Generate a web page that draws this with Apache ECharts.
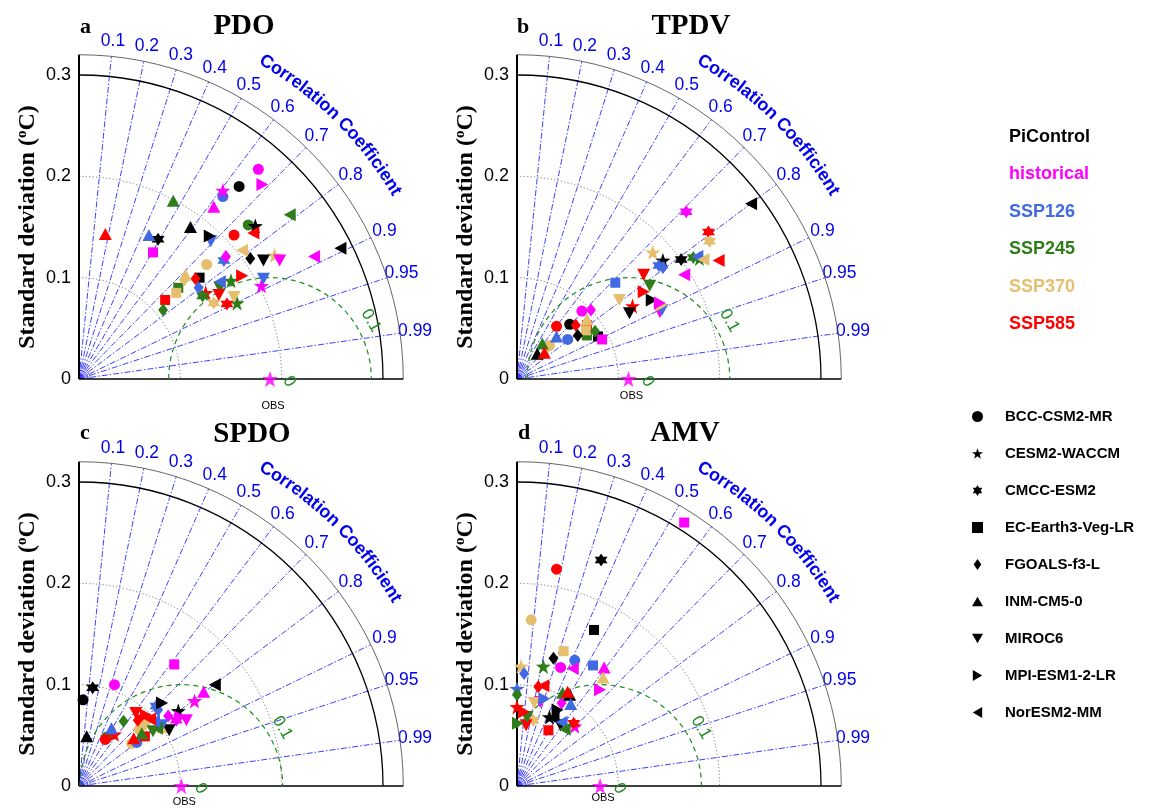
<!DOCTYPE html>
<html>
<head>
<meta charset="utf-8">
<script src="https://cdn.jsdelivr.net/npm/echarts@6/dist/echarts.min.js"></script>
<style>
  html, body { margin: 0; padding: 0; background: #fff; }
  #chart { width: 1151px; height: 810px; }
</style>
</head>
<body>
<div id="chart"></div>
<script>
// models -> marker shape, experiments -> colour
const models = ['BCC-CSM2-MR', 'CESM2-WACCM', 'CMCC-ESM2', 'EC-Earth3-Veg-LR', 'FGOALS-f3-L',
  'INM-CM5-0', 'MIROC6', 'MPI-ESM1-2-LR', 'NorESM2-MM'];
const experiments = ['PiControl', 'historical', 'SSP126', 'SSP245', 'SSP370', 'SSP585'];
const expColors = ['#000000', '#ff00ff', '#4169e1', '#2e7d1a', '#e6bf6e', '#ff0000'];

const corrTicks = [0.1, 0.2, 0.3, 0.4, 0.5, 0.6, 0.7, 0.8, 0.9, 0.95, 0.99];
const sdArcs = [0.1, 0.2];
const rmsArcs = [0, 0.1];
const panelTitles = ['PDO', 'TPDV', 'SPDO', 'AMV'];
const panelLetters = ['a', 'b', 'c', 'd'];
const obsStd = [0.1885, 0.110, 0.101, 0.082];

// [model, experiment, sd*R, sd*sqrt(1-R^2)]
const pdoPoints = [
  [0, 1, 0.177, 0.207], [0, 0, 0.158, 0.190], [7, 1, 0.181, 0.192], [1, 1, 0.142, 0.186],
  [0, 2, 0.142, 0.180], [5, 1, 0.133, 0.170], [5, 3, 0.093, 0.176], [8, 3, 0.208, 0.162],
  [5, 5, 0.026, 0.143], [5, 2, 0.069, 0.142], [2, 0, 0.078, 0.138], [3, 1, 0.073, 0.125],
  [5, 0, 0.110, 0.150], [7, 0, 0.129, 0.141], [6, 2, 0.130, 0.136], [0, 3, 0.167, 0.152],
  [1, 0, 0.174, 0.151], [0, 5, 0.153, 0.142], [8, 5, 0.172, 0.144], [8, 4, 0.161, 0.127],
  [4, 0, 0.169, 0.119], [6, 0, 0.182, 0.117], [1, 4, 0.193, 0.122], [6, 1, 0.198, 0.117],
  [8, 1, 0.232, 0.121], [8, 0, 0.258, 0.129], [4, 1, 0.145, 0.121], [2, 2, 0.143, 0.117],
  [0, 4, 0.126, 0.113], [4, 4, 0.104, 0.098], [5, 4, 0.105, 0.103], [4, 5, 0.115, 0.099],
  [3, 0, 0.119, 0.100], [4, 2, 0.118, 0.090], [3, 3, 0.098, 0.090], [3, 4, 0.096, 0.085],
  [3, 5, 0.085, 0.078], [4, 3, 0.083, 0.068], [8, 2, 0.139, 0.096], [1, 3, 0.150, 0.097],
  [7, 5, 0.161, 0.102], [6, 3, 0.139, 0.090], [2, 3, 0.122, 0.082], [1, 5, 0.125, 0.085],
  [6, 5, 0.138, 0.083], [2, 4, 0.133, 0.075], [6, 4, 0.153, 0.081], [2, 5, 0.146, 0.074],
  [1, 3, 0.156, 0.075], [6, 2, 0.182, 0.099], [1, 1, 0.180, 0.092]
];
const tpdvPoints = [
  [8, 0, 0.231, 0.173], [2, 1, 0.167, 0.165], [2, 5, 0.189, 0.145], [2, 4, 0.190, 0.136],
  [1, 4, 0.134, 0.125], [1, 0, 0.144, 0.117], [2, 0, 0.162, 0.118], [2, 3, 0.174, 0.120],
  [8, 2, 0.178, 0.121], [1, 3, 0.180, 0.119], [8, 4, 0.184, 0.118], [8, 5, 0.199, 0.117],
  [8, 1, 0.165, 0.103], [4, 2, 0.144, 0.110], [2, 2, 0.140, 0.112], [3, 2, 0.097, 0.095],
  [6, 5, 0.125, 0.103], [6, 3, 0.131, 0.092], [7, 5, 0.125, 0.086], [6, 4, 0.101, 0.078],
  [1, 5, 0.114, 0.072], [6, 0, 0.111, 0.065], [7, 0, 0.133, 0.078], [7, 4, 0.143, 0.073],
  [7, 1, 0.141, 0.075], [6, 1, 0.141, 0.066], [6, 2, 0.143, 0.068], [0, 1, 0.064, 0.067],
  [4, 1, 0.073, 0.068], [0, 5, 0.039, 0.052], [0, 0, 0.052, 0.054], [4, 5, 0.058, 0.053],
  [5, 4, 0.069, 0.059], [3, 5, 0.069, 0.053], [5, 2, 0.039, 0.042], [0, 2, 0.050, 0.039],
  [4, 0, 0.060, 0.043], [3, 3, 0.069, 0.043], [4, 3, 0.077, 0.047], [3, 0, 0.080, 0.042],
  [3, 1, 0.084, 0.039], [3, 4, 0.068, 0.048], [0, 4, 0.032, 0.033], [5, 3, 0.025, 0.035],
  [4, 4, 0.030, 0.031], [5, 0, 0.020, 0.025], [5, 5, 0.027, 0.026]
];
const spdoPoints = [
  [3, 1, 0.094, 0.120], [0, 1, 0.035, 0.100], [2, 0, 0.0135, 0.097], [0, 0, 0.004, 0.085],
  [5, 0, 0.0076, 0.049], [8, 0, 0.134, 0.100], [5, 1, 0.123, 0.093], [1, 1, 0.114, 0.084],
  [7, 0, 0.082, 0.082], [2, 2, 0.076, 0.079], [4, 2, 0.078, 0.075], [1, 0, 0.098, 0.074],
  [4, 1, 0.088, 0.069], [2, 1, 0.096, 0.065], [6, 1, 0.106, 0.065], [7, 1, 0.100, 0.068],
  [6, 0, 0.089, 0.055], [0, 4, 0.052, 0.042], [5, 4, 0.083, 0.058], [3, 4, 0.062, 0.060],
  [6, 4, 0.068, 0.063], [4, 4, 0.058, 0.056], [4, 3, 0.044, 0.064], [6, 3, 0.073, 0.054],
  [0, 3, 0.027, 0.048], [5, 3, 0.062, 0.052], [8, 3, 0.077, 0.057], [5, 2, 0.032, 0.057],
  [0, 2, 0.057, 0.043], [6, 2, 0.082, 0.060], [8, 2, 0.074, 0.064], [6, 5, 0.056, 0.072],
  [2, 5, 0.062, 0.067], [8, 5, 0.070, 0.066], [7, 5, 0.066, 0.070], [4, 5, 0.058, 0.065],
  [1, 5, 0.035, 0.051], [0, 5, 0.026, 0.046], [5, 5, 0.054, 0.047], [3, 5, 0.065, 0.049]
];
const amvPoints = [
  [3, 1, 0.165, 0.260], [2, 0, 0.083, 0.223], [0, 5, 0.039, 0.214], [0, 4, 0.014, 0.164],
  [3, 0, 0.076, 0.154], [3, 4, 0.046, 0.133], [4, 0, 0.036, 0.126], [0, 2, 0.057, 0.124],
  [0, 1, 0.043, 0.117], [8, 1, 0.055, 0.116], [3, 2, 0.075, 0.119], [1, 3, 0.026, 0.118],
  [1, 4, 0.004, 0.118], [4, 2, 0.007, 0.111], [5, 1, 0.086, 0.117], [5, 4, 0.085, 0.107],
  [7, 1, 0.082, 0.095], [4, 5, 0.021, 0.098], [8, 5, 0.026, 0.099], [1, 2, 0.000, 0.096],
  [4, 3, 0.000, 0.090], [5, 3, 0.045, 0.092], [5, 0, 0.052, 0.090], [5, 5, 0.050, 0.093],
  [7, 2, 0.027, 0.086], [6, 1, 0.023, 0.083], [1, 5, 0.000, 0.078], [7, 5, 0.007, 0.073],
  [6, 4, 0.017, 0.082], [2, 4, 0.016, 0.065], [7, 3, 0.001, 0.062], [6, 5, 0.009, 0.060],
  [6, 3, 0.010, 0.068], [4, 1, 0.044, 0.082], [5, 2, 0.053, 0.081], [7, 0, 0.040, 0.075],
  [1, 0, 0.032, 0.068], [8, 0, 0.036, 0.067], [8, 2, 0.044, 0.063], [6, 0, 0.043, 0.060],
  [8, 3, 0.047, 0.056], [3, 5, 0.031, 0.055], [2, 5, 0.056, 0.062], [1, 1, 0.057, 0.059]
];
const panelPoints = [pdoPoints, tpdvPoints, spdoPoints, amvPoints];

// layout
const panelBoxes = [
  { left: 79, top: 75, obsDrop: 27, titleX: 244, titleTop: 12, letterX: 80, letterTop: 16 },
  { left: 517, top: 75, obsDrop: 17, titleX: 691, titleTop: 12, letterX: 517, letterTop: 16 },
  { left: 79, top: 482, obsDrop: 16, titleX: 252, titleTop: 420, letterX: 80, letterTop: 422 },
  { left: 517, top: 482, obsDrop: 12, titleX: 685, titleTop: 419, letterX: 518, letterTop: 422 }
];
const boxSize = 304;
const rMax = 0.32;

const shapes = {
  star: 'path://M0,-10L2.35,-3.24L9.51,-3.09L3.8,1.24L5.88,8.09L0,4L-5.88,8.09L-3.8,1.24L-9.51,-3.09L-2.35,-3.24Z',
  hexagram: 'path://M0,-10L2.89,-5L8.66,-5L5.77,0L8.66,5L2.89,5L0,10L-2.89,5L-8.66,5L-5.77,0L-8.66,-5L-2.89,-5Z',
  diamond: 'path://M0,-10L7,0L0,10L-7,0Z',
  up: 'path://M0,-9L10,8L-10,8Z',
  down: 'path://M0,9L10,-8L-10,-8Z',
  right: 'path://M9,0L-8,10L-8,-10Z',
  left: 'path://M-9,0L8,10L8,-10Z'
};
const modelSymbols = ['circle', shapes.star, shapes.hexagram, 'rect', shapes.diamond,
  shapes.up, shapes.down, shapes.right, shapes.left];
const modelSizes = [11, 15, 13, 10, [10, 13], [13, 12], [13, 12], [12, 13], [12, 13]];

const sans = '"Liberation Sans", Arial, Helvetica, sans-serif';
const serif = '"Liberation Serif", "Times New Roman", serif';
const blue = '#0000ee';
const green = '#1e8c1e';
const curveFont = 'bold 18px ' + sans;

const measure = document.createElement('canvas').getContext('2d');
measure.font = curveFont;

function curvedText(str, cx, cy, R, midDeg) {
  const chars = [...str];
  const widths = chars.map((ch) => measure.measureText(ch).width);
  const total = widths.reduce((a, b) => a + b, 0);
  let s = -total / 2;
  return chars.map((ch, i) => {
    const along = s + widths[i] / 2;
    s += widths[i];
    const th = (midDeg * Math.PI) / 180 - along / R;
    return {
      type: 'text',
      x: cx + R * Math.cos(th),
      y: cy - R * Math.sin(th),
      rotation: th - Math.PI / 2,
      style: { text: ch, font: curveFont, fill: blue, align: 'center', verticalAlign: 'middle' }
    };
  });
}

// arcs, rays, axis lines and labels of one Taylor diagram
function frameSeries(p) {
  const obs = obsStd[p];
  const drop = panelBoxes[p].obsDrop;
  return {
    type: 'custom',
    xAxisIndex: p,
    yAxisIndex: p,
    clip: false,
    silent: true,
    z: 1,
    data: [[0, 0]],
    renderItem(params, api) {
      const [ox, oy] = api.coord([0, 0]);
      const k = api.size([1, 0])[0];
      const at = (x, y) => [ox + x * k, oy - y * k];
      const kids = [];
      const arc = (cx, cy, r, a0, a1, style) => kids.push({
        type: 'arc',
        shape: { cx, cy, r, startAngle: a0, endAngle: a1, clockwise: true },
        style: Object.assign({ fill: 'none' }, style)
      });

      // correlation rays + labels
      corrTicks.forEach((c) => {
        const s = Math.sqrt(1 - c * c);
        const [x2, y2] = at(rMax * c, rMax * s);
        kids.push({
          type: 'line',
          shape: { x1: ox, y1: oy, x2, y2 },
          style: { stroke: '#2a2aff', lineWidth: 0.9, lineDash: [6, 2, 1.5, 2] }
        });
        const [lx, ly] = at(0.335 * c, 0.335 * s);
        kids.push({
          type: 'text', x: lx, y: ly,
          style: { text: String(c), fill: blue, font: '17.5px ' + sans, align: 'center', verticalAlign: 'middle' }
        });
      });
      [0.003, 0.005, 0.007, 0.009, 0.011].forEach((r) => {
        arc(ox, oy, r * k, -Math.PI / 2, 0, { stroke: '#3a3aff', lineWidth: 0.7 });
      });

      // std arcs
      sdArcs.forEach((r) => {
        arc(ox, oy, r * k, -Math.PI / 2, 0, { stroke: '#777', lineWidth: 1, lineDash: [1.2, 2.2] });
      });
      arc(ox, oy, 0.3 * k, -Math.PI / 2, 0, { stroke: '#000', lineWidth: 1.3 });
      arc(ox, oy, rMax * k, -Math.PI / 2, 0, { stroke: '#555', lineWidth: 0.9 });

      // axis lines
      kids.push({ type: 'line', shape: { x1: ox, y1: oy, x2: ox, y2: oy - rMax * k },
        style: { stroke: '#000', lineWidth: 2 } });
      kids.push({ type: 'line', shape: { x1: ox, y1: oy, x2: ox + rMax * k, y2: oy },
        style: { stroke: '#000', lineWidth: 1.5 } });

      // centred RMS difference around OBS
      const [bx, by] = at(obs, 0);
      rmsArcs.forEach((r) => {
        if (r > 0) {
          const phi = obs >= r ? Math.PI : Math.acos(-obs / r);
          arc(bx, by, r * k, -phi, 0, { stroke: green, lineWidth: 1.2, lineDash: [5, 4] });
          const [tx, ty] = at(obs + (r + 0.015) * Math.cos(Math.PI / 6), (r + 0.015) * Math.sin(Math.PI / 6));
          kids.push({ type: 'text', x: tx, y: ty, rotation: -Math.PI / 3,
            style: { text: String(r), fill: green, font: '17px ' + sans, align: 'center', verticalAlign: 'middle' } });
        } else {
          const [tx, ty] = at(obs + 0.019, -0.0025);
          kids.push({ type: 'text', x: tx, y: ty, rotation: -Math.PI / 3,
            style: { text: '0', fill: green, font: '17px ' + sans, align: 'center', verticalAlign: 'middle' } });
        }
      });
      kids.push({ type: 'text', x: bx + 3, y: by + drop,
        style: { text: 'OBS', fill: '#000', font: '11px ' + sans, align: 'center', verticalAlign: 'middle' } });

      // curved axis title
      kids.push(...curvedText('Correlation Coefficient', ox, oy, 0.363 * k, 45.3));
      return { type: 'group', children: kids };
    }
  };
}

const grid = panelBoxes.map((b) => ({
  left: b.left, top: b.top, width: boxSize, height: boxSize, outerBoundsMode: 'none'
}));
const xAxis = panelBoxes.map((b, p) => ({
  gridIndex: p, type: 'value', min: 0, max: 0.3, show: false
}));
const yAxis = panelBoxes.map((b, p) => ({
  gridIndex: p,
  type: 'value',
  min: 0,
  max: 0.3,
  interval: 0.1,
  axisLine: { show: false },
  axisTick: { show: false },
  splitLine: { show: false },
  axisLabel: {
    fontSize: 18, color: '#000', fontFamily: sans, margin: 8,
    formatter: (v) => (v === 0 ? '0' : v.toFixed(1))
  },
  name: 'Standard deviation ({sup|o}C)',
  nameLocation: 'middle',
  nameGap: 39,
  nameTextStyle: {
    fontFamily: serif, fontWeight: 'bold', fontSize: 24, color: '#000',
    rich: { sup: { fontFamily: serif, fontWeight: 'bold', fontSize: 15, color: '#000', verticalAlign: 'top', padding: [0, 0, 10, 0] } }
  }
}));

const series = [];
panelPoints.forEach((pts, p) => {
  series.push(frameSeries(p));
  models.forEach((m, mi) => {
    series.push({
      type: 'scatter',
      name: m,
      xAxisIndex: p,
      yAxisIndex: p,
      clip: false,
      z: 3,
      symbol: modelSymbols[mi],
      symbolSize: modelSizes[mi],
      itemStyle: { color: '#000', opacity: 1 },
      data: pts.filter((d) => d[0] === mi).map((d) => ({
        value: [d[2], d[3]],
        itemStyle: { color: expColors[d[1]] }
      }))
    });
  });
  series.push({
    type: 'scatter',
    name: 'OBS',
    xAxisIndex: p,
    yAxisIndex: p,
    clip: false,
    z: 4,
    symbol: shapes.star,
    symbolSize: 16,
    itemStyle: { color: '#ff00ff' },
    data: [[obsStd[p], 0]]
  });
});
// experiment names for the colour legend
experiments.forEach((e, i) => {
  series.push({ type: 'scatter', name: e, xAxisIndex: 0, yAxisIndex: 0, itemStyle: { color: expColors[i] }, data: [] });
});

const title = [];
panelBoxes.forEach((b, p) => {
  title.push({
    text: panelTitles[p], left: b.titleX, top: b.titleTop, textAlign: 'center', padding: 0,
    textStyle: { fontFamily: serif, fontWeight: 'bold', fontSize: 29, color: '#000' }
  });
  title.push({
    text: panelLetters[p], left: b.letterX, top: b.letterTop, padding: 0,
    textStyle: { fontFamily: serif, fontWeight: 'bold', fontSize: 22, color: '#000' }
  });
});

const chart = echarts.init(document.getElementById('chart'), null, { renderer: 'canvas' });
chart.setOption({
  animation: false,
  backgroundColor: '#fff',
  title,
  grid,
  xAxis,
  yAxis,
  legend: [
    {
      orient: 'vertical',
      left: 1004,
      top: 127,
      padding: 0,
      itemWidth: 0,
      itemHeight: 20,
      itemGap: 17.4,
      icon: 'none',
      selectedMode: false,
      textStyle: { fontSize: 18, fontWeight: 'bold', fontFamily: sans, lineHeight: 20 },
      data: experiments.map((e, i) => ({ name: e, textStyle: { color: expColors[i] } }))
    },
    {
      orient: 'vertical',
      left: 972,
      top: 409,
      padding: 0,
      itemWidth: 11,
      itemHeight: 11,
      itemGap: 22,
      selectedMode: false,
      formatter: (name) => '{t|' + name + '}',
      textStyle: {
        color: '#000',
        rich: { t: { fontSize: 15, fontWeight: 'bold', fontFamily: sans, color: '#000', lineHeight: 14, padding: [0, 0, 0, 17] } }
      },
      data: models.map((m, i) => ({ name: m, icon: modelSymbols[i], itemStyle: { color: '#000' } }))
    }
  ],
  series
});
</script>
</body>
</html>
